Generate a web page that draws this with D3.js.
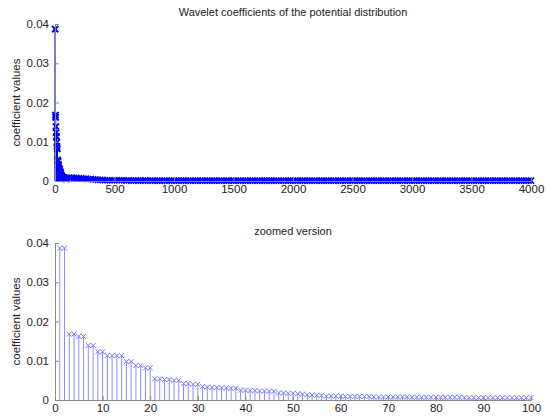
<!DOCTYPE html>
<html><head><meta charset="utf-8">
<script src="https://cdn.jsdelivr.net/npm/d3@7"></script>
<style>body{margin:0;background:#fff}svg{display:block;font-family:"Liberation Sans",Arial,sans-serif}</style>
</head><body><svg id="c" width="550" height="416"></svg>
<script>
// first 100 coefficients (index 1..100)
const zoomValues = [
0.0387,0.0387,0.0168,0.0168,0.0162,0.0162,0.0139,0.0139,0.0123,0.0123,
0.0113,0.0113,0.0113,0.0113,0.0098,0.0098,0.0088,0.0088,0.0082,0.0082,
0.0054,0.0054,0.0052,0.0052,0.0050,0.0050,0.0042,0.0042,0.0040,0.0040,
0.0034,0.0033,0.0032,0.0032,0.0031,0.0031,0.0030,0.0030,0.0025,0.0025,
0.0024,0.0024,0.0023,0.0023,0.0022,0.0022,0.0018,0.0018,0.0017,0.0017,
0.0016,0.0015,0.0013,0.0013,0.0012,0.0012,0.0010,0.0010,0.0010,0.0010,
0.0009,0.0009,0.0009,0.0009,0.0009,0.0009,0.0008,0.0008,0.0008,0.0008,
0.0008,0.0008,0.0008,0.0008,0.0007,0.0007,0.0007,0.0007,0.0007,0.0007,
0.0007,0.0007,0.0007,0.0007,0.0007,0.0007,0.0006,0.0006,0.0006,0.0006,
0.0006,0.0006,0.0006,0.0006,0.0006,0.0006,0.0006,0.0006,0.0006,0.0006];
// tail coefficients sampled every 20 indices (index 120..4000)
const tailIndex = d3.range(120, 4001, 20);
const tailValues = [
0.0009,0.0009,0.0008,0.0008,0.0007,0.0007,0.0006,0.0006,0.0005,0.0005,0.0004,0.0004,0.0003,
0.0003,0.0003,0.0002,0.0002,0.0002,0.0002,0.0002,0.0002,0.0002,0.0002,0.0002,0.0001,0.0002,
0.0001,0.0001,0.0002,0.0001,0.0001,0.0001,0.0002,0.0001,0.0001,0.0001,0.0001,0.0001,0.0001,
0.0001,0.0001,0.0001,0.0001,0.0001,0.0001,0.0001,0.0001,0.0001,0.0001,0.0001,0.0001,0.0001,
0.0001,0.0001,0.0001,0.0001,0.0001,0.0001,0.0001,0.0001,0.0001,0.0001,0.0001,0.0001,0.0001,
0.0001,0.0001,0.0001,0.0001,0.0001,0.0001,0.0001,0.0001,0.0001,0.0001,0.0001,0.0001,0.0001,
0.0001,0.0001,0.0001,0.0001,0.0001,0.0001,0.0001,0.0001,0.0001,0.0001,0.0001,0.0001,0.0001,
0.0001,0.0001,0.0001,0.0001,0.0001,0.0001,0.0001,0.0001,0.0001,0.0001,0.0001,0.0001,0.0001,
0.0001,0.0001,0.0001,0.0001,0.0001,0.0001,0.0001,0.0001,0.0001,0.0001,0.0001,0.0001,0.0001,
0.0001,0.0001,0.0001,0.0001,0.0001,0.0001,0.0001,0.0001,0.0001,0.0001,0.0001,0.0001,0.0001,
0.0001,0.0001,0.0001,0.0001,0.0001,0.0001,0.0001,0.0001,0.0001,0.0001,0.0001,0.0001,0.0001,
0.0001,0.0001,0.0001,0.0001,0.0001,0.0001,0.0001,0.0001,0.0001,0.0001,0.0001,0.0001,0.0001,
0.0001,0.0001,0.0001,0.0001,0.0001,0.0001,0.0001,0.0001,0.0001,0.0001,0.0001,0.0001,0.0001,
0.0001,0.0001,0.0001,0.0001,0.0001,0.0001,0.0001,0.0001,0.0001,0.0001,0.0001,0.0001,0.0001,
0.0001,0.0001,0.0001,0.0001,0.0001,0.0001,0.0001,0.0001,0.0001,0.0001,0.0001,0.0001,0.0001];
const yTicks = [0, 0.01, 0.02, 0.03, 0.04];
const yTickLabels = ["0","0.01","0.02","0.03","0.04"];
const topXTicks = [0,500,1000,1500,2000,2500,3000,3500,4000];
const botXTicks = [0,10,20,30,40,50,60,70,80,90,100];
const titles = ["Wavelet coefficients of the potential distribution", "zoomed version"];
const yLabel = "coefficient values";

const svg = d3.select("#c");
const zoomData = zoomValues.map((v,i)=>({x:i+1,y:v}));
const allData = zoomData.concat(tailIndex.map((x,i)=>({x, y: tailValues[i]})));

function panel(data, xDomain, xTicks, top, bottom, title, color, markerColor, mk, sw){
  const x = d3.scaleLinear().domain(xDomain).range([55, 531]);
  const y = d3.scaleLinear().domain([0, 0.04]).range([bottom, top]);
  const g = svg.append("g");
  g.selectAll("line.stem").data(data).join("line")
    .attr("x1", d=>x(d.x)).attr("x2", d=>x(d.x))
    .attr("y1", y(0)).attr("y2", d=>y(d.y))
    .attr("stroke", color).attr("stroke-width", 1);
  g.selectAll("path.mk").data(data).join("path")
    .attr("d", d=>{const cx=x(d.x), cy=y(d.y);
      return `M${cx-mk},${cy-mk}L${cx+mk},${cy+mk}M${cx-mk},${cy+mk}L${cx+mk},${cy-mk}`;})
    .attr("stroke", markerColor).attr("stroke-width", sw).attr("fill","none");
  const ax = g.append("g").attr("transform",`translate(0,${bottom})`)
    .call(d3.axisBottom(x).tickValues(xTicks).tickSizeInner(-4).tickSizeOuter(0).tickPadding(4).tickFormat(d3.format("d")));
  const ay = g.append("g").attr("transform",`translate(55,0)`)
    .call(d3.axisLeft(y).tickValues(yTicks).tickSizeInner(-4).tickSizeOuter(0).tickPadding(6).tickFormat((d,i)=>yTickLabels[i]));
  [ax, ay].forEach(a=>{
    a.select(".domain").attr("stroke","#888");
    a.selectAll(".tick line").attr("stroke","#888");
    a.selectAll(".tick text").attr("fill","#222").style("font-size","11.5px");
  });
  g.append("text").attr("x", 293).attr("y", top-8).attr("text-anchor","middle")
    .style("font-size","11px").attr("fill","#222").text(title);
  g.append("text").attr("transform",`translate(20,${(top+bottom)/2}) rotate(-90)`)
    .attr("text-anchor","middle").style("font-size","11.5px").attr("fill","#222").text(yLabel);
}
panel(allData, [0,4000], topXTicks, 24, 181, titles[0], "#0000ff", "#0000ff", 3, 1.6);
panel(zoomData, [0,100], botXTicks, 243, 400, titles[1], "#8c8cff", "#7777ff", 2.5, 1);
</script></body></html>
